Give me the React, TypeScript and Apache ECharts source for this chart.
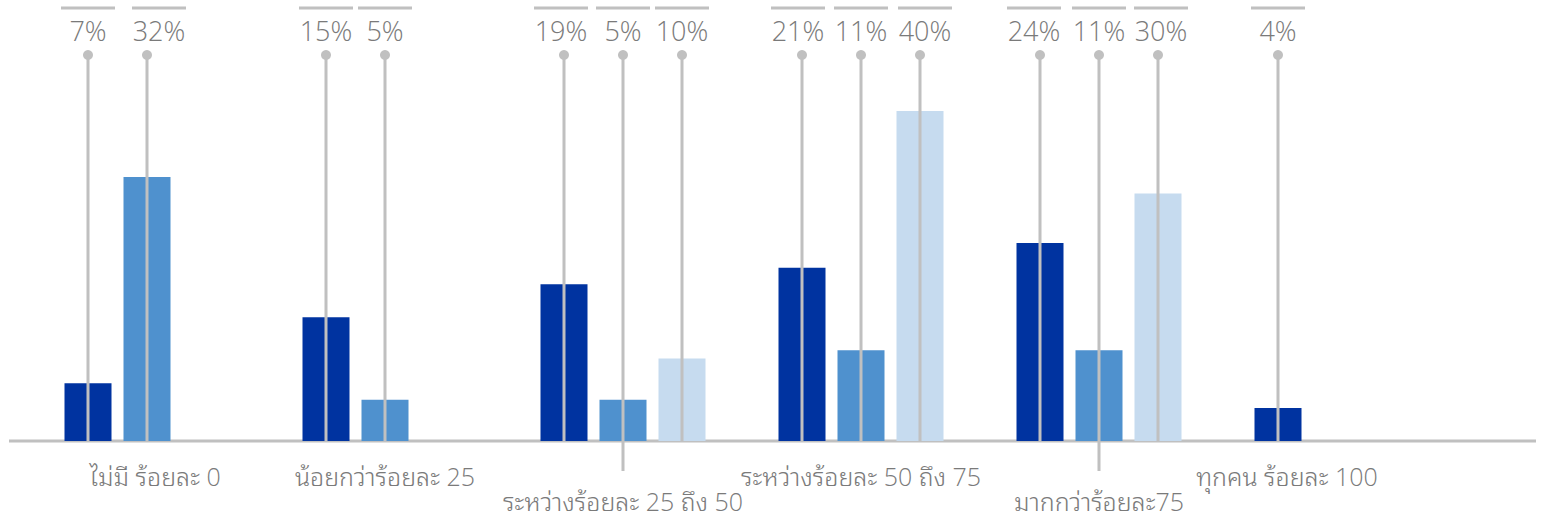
import React, { useEffect, useRef } from 'react';
import * as echarts from 'echarts';

// Share of respondents per band, three groups of bars
const categories = [
  'ไม่มี ร้อยละ 0',
  'น้อยกว่าร้อยละ 25',
  'ระหว่างร้อยละ 25 ถึง 50',
  'ระหว่างร้อยละ 50 ถึง 75',
  'มากกว่าร้อยละ75',
  'ทุกคน ร้อยละ 100',
];
const groupA: (number | null)[] = [7, 15, 19, 21, 24, 4];
const groupB: (number | null)[] = [32, 5, 5, 11, 11, null];
const groupC: (number | null)[] = [null, null, 10, 40, 30, null];
const seriesNames = ['กลุ่ม 1', 'กลุ่ม 2', 'กลุ่ม 3'];
const colors = ['#0033A0', '#4F91CE', '#C6DBEF'];

// Categories whose axis label is dropped to a second row
const lowerRow = [2, 4];

// Small horizontal nudges (px) of some value callouts, keyed "series-category"
const calloutNudge: Record<string, number> = {
  '1-0': 12,
  '0-2': -3,
  '0-3': -4,
  '2-3': 5,
  '0-4': -6,
  '2-4': 3,
};

const GRAY = '#C0C0C0';
const TEXT = '#7A7A7A';
const FONT =
  '"Open Sans", "Noto Sans Thai Looped", "Noto Sans Thai", "Leelawadee UI", "Noto Sans", sans-serif';
const BAR_W = 47;
const BAR_GAP = 12;

export default function App() {
  const ref = useRef<HTMLDivElement>(null);

  useEffect(() => {
    if (!ref.current) return;
    const chart = echarts.init(ref.current, undefined, { renderer: 'svg' });
    const groups = [groupA, groupB, groupC];

    const barSeries = groups.map((g, k) => ({
      type: 'bar',
      name: seriesNames[k],
      data: g,
      barWidth: BAR_W,
      barGap: `${(BAR_GAP / BAR_W) * 100}%`,
      itemStyle: { color: colors[k] },
      z: 2,
    }));

    // Callout for each bar: a pin line from the base, a dot, the value and a rule above it
    const calloutSeries = groups.map((g, k) => ({
      type: 'custom',
      name: seriesNames[k] + ' label',
      z: 5,
      silent: true,
      data: g
        .map((v, i) => (v == null ? null : [i, v]))
        .filter((d) => d != null),
      renderItem: (params: any, api: any) => {
        const idx = api.value(0);
        const val = api.value(1);
        const base = api.coord([idx, 0]);
        const x = base[0] + (k - 1) * (BAR_W + BAR_GAP);
        const lx = x + (calloutNudge[`${k}-${idx}`] || 0);
        const top = params.coordSys.y;
        const dotY = top + 47;
        const extendDown = k === 1 && lowerRow.includes(idx) ? 30 : 0;
        return {
          type: 'group',
          children: [
            {
              type: 'line',
              shape: { x1: x, y1: base[1] + extendDown, x2: x, y2: dotY },
              style: { stroke: GRAY, lineWidth: 3 },
            },
            {
              type: 'circle',
              shape: { cx: x, cy: dotY, r: 5 },
              style: { fill: GRAY },
            },
            {
              type: 'line',
              shape: { x1: lx - 27, y1: top, x2: lx + 27, y2: top },
              style: { stroke: GRAY, lineWidth: 3 },
            },
            {
              type: 'text',
              x: lx,
              y: top + 22,
              style: {
                text: `${val}%`,
                fill: TEXT,
                fontSize: 27,
                fontWeight: 300,
                fontFamily: FONT,
                align: 'center',
                verticalAlign: 'middle',
              },
            },
          ],
        };
      },
    }));

    const labelStyle = {
      color: TEXT,
      fontSize: 25,
      fontWeight: 300,
      fontFamily: FONT,
      lineHeight: 25,
    };

    chart.setOption({
      animation: false,
      backgroundColor: '#ffffff',
      grid: { left: 28, right: 87, top: 8, bottom: 78, containLabel: false },
      xAxis: {
        type: 'category',
        data: categories,
        axisLine: { show: false },
        axisTick: { show: false },
        axisLabel: {
          interval: 0,
          hideOverlap: false,
          margin: 22,
          ...labelStyle,
          formatter: (v: string, i: number) => {
            if (i === 0) return `{f|${v}}`;
            if (i === categories.length - 1) return `{s|${v}}`;
            return lowerRow.includes(i) ? `\n${v}` : v;
          },
          rich: {
            f: { ...labelStyle, padding: [0, 0, 0, 16] },
            s: { ...labelStyle, padding: [0, 100, 0, 0] },
          },
        },
      },
      yAxis: {
        type: 'value',
        min: 0,
        max: 52.5,
        show: false,
        splitLine: { show: false },
      },
      graphic: [
        {
          type: 'line',
          z: 1,
          shape: { x1: 9, y1: 441, x2: 1536, y2: 441 },
          style: { stroke: GRAY, lineWidth: 3 },
        },
      ],
      series: [...barSeries, ...calloutSeries],
    });

    return () => chart.dispose();
  }, []);

  return (
    <div
      ref={ref}
      style={{ position: 'absolute', left: 0, top: 0, width: 1543, height: 519 }}
    />
  );
}
